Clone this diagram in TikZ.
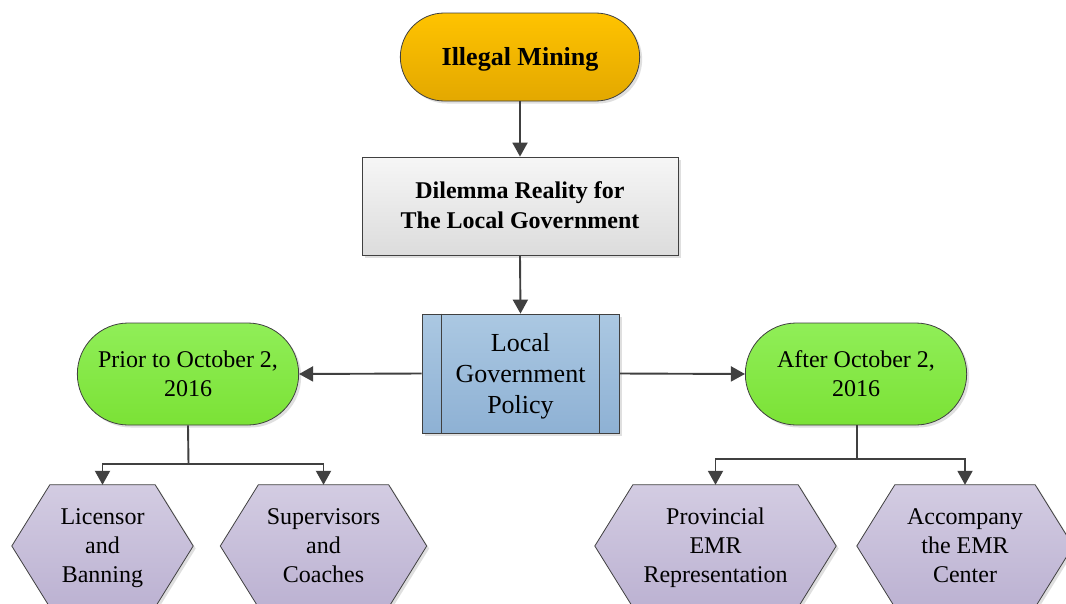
\documentclass[tikz,border=0pt]{standalone}
\usepackage{fontspec}
\setmainfont{Liberation Serif}
\usetikzlibrary{shapes.misc,arrows.meta,shadows,calc}
\pgfdeclarelayer{bg}
\pgfsetlayers{bg,main}
\definecolor{linegray}{HTML}{404040}
\definecolor{goldtop}{HTML}{FFC300}
\definecolor{goldbot}{HTML}{E3A800}
\definecolor{graytop}{HTML}{F6F6F6}
\definecolor{graybot}{HTML}{DCDCDC}
\definecolor{bluetop}{HTML}{ABC8E2}
\definecolor{bluebot}{HTML}{8EB1D4}
\definecolor{greentop}{HTML}{90EE58}
\definecolor{greenbot}{HTML}{7BE236}
\definecolor{purptop}{HTML}{D3CCE2}
\definecolor{purpbot}{HTML}{BCB2D2}
\newcommand\topstrut[1]{\rule{0pt}{#1}}
\tikzset{
  shad/.style={drop shadow={shadow xshift=2.5pt,shadow yshift=-2.5pt,fill=black!35,opacity=0.35}},
  pillgold/.style={rounded rectangle,draw=linegray,line width=0.8pt,top color=goldtop,bottom color=goldbot,shad,
    minimum width=246pt,minimum height=88pt,font=\fontsize{26}{31}\selectfont\bfseries},
  graybox/.style={rectangle,draw=linegray,line width=0.8pt,top color=graytop,bottom color=graybot,shad,
    minimum width=316pt,minimum height=98pt,align=center,font=\fontsize{24}{30}\selectfont\bfseries},
  procbox/.style={rectangle,draw=linegray,line width=0.8pt,top color=bluetop,bottom color=bluebot,shad,
    minimum width=197pt,minimum height=119pt,align=center,font=\fontsize{26}{31}\selectfont},
  pillgreen/.style={rounded rectangle,draw=linegray,line width=0.8pt,top color=greentop,bottom color=greenbot,shad,
    minimum width=228pt,minimum height=102pt,align=center,font=\fontsize{24}{29}\selectfont},
  hexbox/.style={rectangle,draw=none,minimum height=122pt,inner sep=0pt,align=center,font=\fontsize{24}{29}\selectfont},
  hexfill/.style={draw=linegray,line width=0.8pt,top color=purptop,bottom color=purpbot,shad},
  arr/.style={draw=linegray,line width=1.9pt,-{Triangle[length=14pt,width=15pt]}},
  ln/.style={draw=linegray,line width=1.9pt},
}
\newcommand\hexshape[1]{%
  \begin{pgfonlayer}{bg}
  \path[hexfill] (#1.north west) -- (#1.north east) -- ([xshift=38pt]#1.east) -- (#1.south east)
     -- (#1.south west) -- ([xshift=-38pt]#1.west) -- cycle;
  \end{pgfonlayer}}
\begin{document}
\begin{tikzpicture}[x=1pt,y=-1pt]
\useasboundingbox (0,0) rectangle (1066,603);
\begin{pgfonlayer}{bg}
\fill[white] (0,0) rectangle (1066,603);
\end{pgfonlayer}

\node[pillgold] (mining) at (520,57) {\topstrut{22pt}Illegal Mining};
\node[graybox] (dilemma) at (520,206) {\topstrut{23pt}Dilemma Reality for\\\strut The Local Government};
\node[procbox] (policy) at (520.5,373.5) {\topstrut{27.5pt}Local\\\strut Government\\\strut Policy};
\draw[linegray,line width=0.8pt] ([xshift=20pt]policy.north west) -- ([xshift=20pt]policy.south west);
\draw[linegray,line width=0.8pt] ([xshift=-20pt]policy.north east) -- ([xshift=-20pt]policy.south east);

\node[pillgreen] (prior) at (188,374) {\topstrut{24.5pt}Prior to October 2,\\\strut 2016};
\node[pillgreen] (after) at (856,374) {\topstrut{24.5pt}After October 2,\\\strut 2016};

\node[hexbox,minimum width=105pt] (h1) at (102.5,546) {\topstrut{24.5pt}Licensor\\\strut and\\\strut Banning};
\node[hexbox,minimum width=130pt] (h2) at (323.5,546) {\topstrut{24.5pt}Supervisors\\\strut and\\\strut Coaches};
\node[hexbox,minimum width=165pt] (h3) at (715.5,546) {\topstrut{24.5pt}Provincial\\\strut EMR\\\strut Representation};
\node[hexbox,minimum width=140pt] (h4) at (965,546) {\topstrut{24.5pt}Accompany\\\strut the EMR\\\strut Center};
\hexshape{h1}\hexshape{h2}\hexshape{h3}\hexshape{h4}

\draw[arr] (mining.south) -- (dilemma.north);
\draw[arr] (dilemma.south) -- (policy.north);
\draw[arr] (policy.west) -- (prior.east);
\draw[arr] (policy.east) -- (after.west);

\coordinate (jl) at (188.5,464);
\coordinate (jr) at (857,459);
\draw[ln] (prior.south) -- (jl);
\draw[arr] (jl) -| (h1.north);
\draw[arr] (jl) -| (h2.north);
\draw[ln] (after.south -| jr) -- (jr);
\draw[arr] (jr) -| (h3.north);
\draw[arr] (jr) -| (h4.north);
\end{tikzpicture}
\end{document}
